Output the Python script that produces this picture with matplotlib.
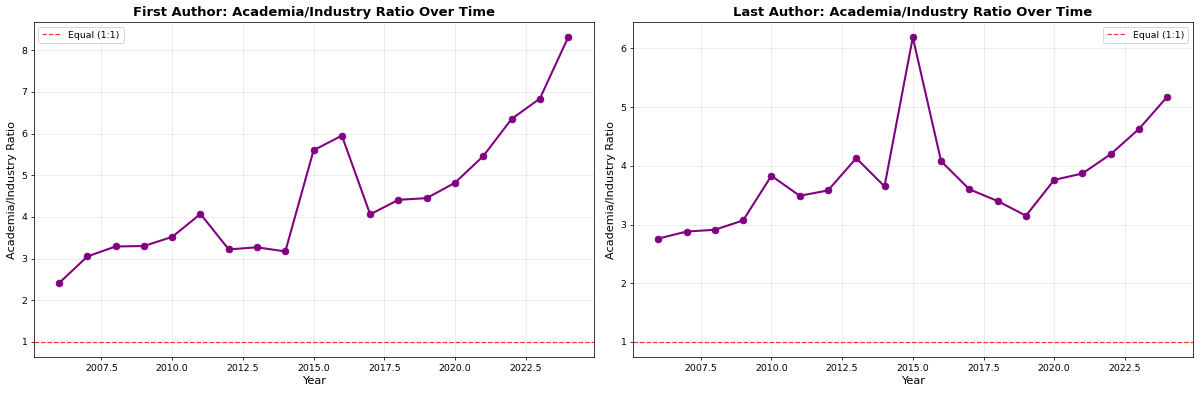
import matplotlib
matplotlib.use("Agg")
import matplotlib.pyplot as plt

years = list(range(2006, 2025))
first_ratio = [2.41, 3.05, 3.29, 3.30, 3.52, 4.07, 3.22, 3.27, 3.17, 5.60,
               5.95, 4.06, 4.41, 4.45, 4.82, 5.46, 6.35, 6.84, 8.31]
last_ratio = [2.76, 2.88, 2.91, 3.07, 3.83, 3.49, 3.58, 4.13, 3.65, 6.19,
              4.08, 3.60, 3.40, 3.15, 3.76, 3.87, 4.20, 4.63, 5.18]

panels = [("First Author: Academia/Industry Ratio Over Time", first_ratio, "upper left"),
          ("Last Author: Academia/Industry Ratio Over Time", last_ratio, "upper right")]

dpi = 67.7
fig, axes = plt.subplots(1, 2, figsize=(1200 / dpi, 395 / dpi), dpi=dpi)
for ax, (title, vals, loc) in zip(axes, panels):
    ax.plot(years, vals, marker='o', linewidth=2.2, markersize=7, color='purple')
    ax.axhline(y=1, color='red', linestyle='--', alpha=0.8, linewidth=1.3, label='Equal (1:1)')
    ax.set_title(title, fontsize=14, fontweight='bold')
    ax.set_xlabel('Year', fontsize=12)
    ax.set_ylabel('Academia/Industry Ratio', fontsize=12)
    ax.legend(loc=loc)
    ax.grid(True, alpha=0.3)

plt.subplots_adjust(left=0.028, right=0.994, top=0.944, bottom=0.096, wspace=0.07)
plt.savefig('out.png', dpi=dpi)
